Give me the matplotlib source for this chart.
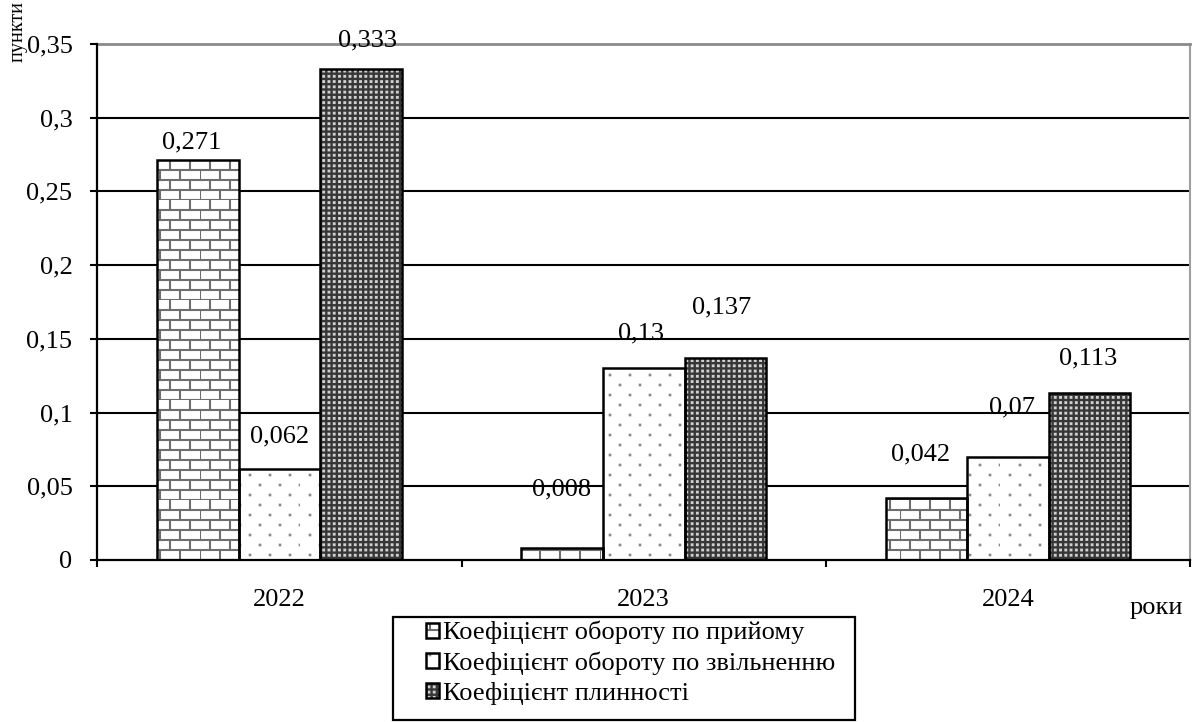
"""Staff turnover coefficients by year, grouped textured bars."""
import warnings

import matplotlib
matplotlib.use("Agg")
import matplotlib.pyplot as plt
import numpy as np
from matplotlib import hatch as mhatch
from matplotlib.path import Path
from matplotlib.patches import Rectangle
from matplotlib.legend_handler import HandlerTuple
from matplotlib.ticker import FixedLocator, FuncFormatter

warnings.filterwarnings("ignore")

YEARS = ["2022", "2023", "2024"]
SERIES = [
    "Коефіцієнт обороту по прийому",
    "Коефіцієнт обороту по звільненню",
    "Коефіцієнт плинності",
]
HIRING = [0.271, 0.008, 0.042]
DISMISSAL = [0.062, 0.13, 0.07]
FLUIDITY = [0.333, 0.137, 0.113]

# hand-placed value labels (pixel offsets from the bar top centre)
LABEL_SHIFT = [
    [(-6, 18), (-1, 59), (-6, 44)],
    [(0, 32), (-3, 35), (4, 49)],
    [(6, 29), (-4, 51), (-1, 35)],
]


class TextureHatch(mhatch.HatchPatternBase):
    """Extra fill textures: 'b' bricks, 'd' sparse dots, 'g' dense dot grid."""

    def __init__(self, hatch, density):
        verts, codes = [], []
        if "b" in hatch:
            rows, cols = 10, 5
            for k in range(rows):
                verts += [(0, k / rows), (1, k / rows)]
                codes += [Path.MOVETO, Path.LINETO]
                shift = 0.5 / cols if k % 2 else 0.0
                for j in range(cols):
                    x = j / cols + shift
                    verts += [(x, k / rows), (x, (k + 1) / rows)]
                    codes += [Path.MOVETO, Path.LINETO]
        if "d" in hatch:
            self._dots(verts, codes, 10, 5, 0.003, stagger=True)
        if "g" in hatch:
            self._dots(verts, codes, 19, 19, 0.004, stagger=False)
        self.verts = np.array(verts, float).reshape(-1, 2)
        self.codes = np.array(codes, Path.code_type)
        self.num_vertices = len(self.verts)

    @staticmethod
    def _dots(verts, codes, rows, cols, s, stagger):
        for k in range(rows):
            shift = 0.5 / cols if (stagger and k % 2) else 0.0
            y = (k + 0.5) / rows
            for j in range(cols):
                x = (j + 0.5) / cols + shift
                x = x - 1 if x > 1 else x
                verts += [(x - s, y - s), (x + s, y - s), (x + s, y + s),
                          (x - s, y + s), (x - s, y - s)]
                codes += [Path.MOVETO, Path.LINETO, Path.LINETO,
                          Path.LINETO, Path.CLOSEPOLY]

    def set_vertices_and_codes(self, vertices, codes):
        vertices[:] = self.verts
        codes[:] = self.codes


mhatch._hatch_types.append(TextureHatch)

plt.rcParams["font.family"] = ["Liberation Serif", "DejaVu Serif"]
plt.rcParams["hatch.linewidth"] = 1.5

fig = plt.figure(figsize=(11.93, 7.22), dpi=100)
ax = fig.add_axes([0.0817, 0.2244, 0.9158, 0.7147])

x = np.arange(len(YEARS))
w = 0.224
styles = [
    dict(hatch="b", facecolor="white", edgecolor="#6e6e6e"),
    dict(hatch="d", facecolor="white", edgecolor="#8a8a8a"),
    dict(hatch="g", facecolor="#363636", edgecolor="#d0d0d0"),
]
handles = []
for i, (vals, st) in enumerate(zip([HIRING, DISMISSAL, FLUIDITY], styles)):
    pos = x + (i - 1) * w
    fill = ax.bar(pos, vals, w, linewidth=0, zorder=2, **st)
    edge = ax.bar(pos, vals, w, fill=False, edgecolor="black",
                  linewidth=1.8, zorder=3)
    handles.append((fill[0], edge[0]))
    for p, v, (dx, dy) in zip(pos, vals, LABEL_SHIFT[i]):
        ax.annotate(f"{v:g}".replace(".", ","), (p, v),
                    xytext=(dx, dy), textcoords="offset pixels",
                    ha="center", va="center", fontsize=19, zorder=5)

ax.set_xlim(-0.5, 2.5)
ax.set_ylim(0, 0.35)
yt = np.round(np.arange(0, 0.351, 0.05), 2)
ax.set_yticks(yt)
ax.yaxis.set_major_formatter(
    FuncFormatter(lambda v, _: f"{round(v, 2):g}".replace(".", ",")))
for v in yt[1:-1]:
    ax.axhline(v, color="black", linewidth=1.5, zorder=1)

ax.xaxis.set_major_locator(FixedLocator([-0.5, 0.5, 1.5, 2.5]))
ax.xaxis.set_major_formatter(FuncFormatter(lambda v, _: ""))
ax.xaxis.set_minor_locator(FixedLocator(x))
ax.set_xticklabels(YEARS, minor=True)
ax.tick_params(axis="x", which="major", direction="out", length=5,
               width=1.5)
ax.tick_params(axis="x", which="minor", length=0, pad=21, labelsize=19)
ax.tick_params(axis="y", direction="out", length=5, width=1.5, pad=13,
               labelsize=19)

for side in ("left", "bottom"):
    ax.spines[side].set_linewidth(1.6)
    ax.spines[side].set_zorder(4)
ax.spines["top"].set_color("#8a8a8a")
ax.spines["top"].set_linewidth(2)
ax.spines["right"].set_color("#a0a0a0")
ax.spines["right"].set_linewidth(1.5)

fig.text(18 / 1193, 1 - 31 / 722, "пункти", rotation=90, ha="center",
         va="center", fontsize=14.5)
fig.text(1156 / 1193, 1 - 608 / 722, "роки", ha="center", va="center",
         fontsize=19)

leg = fig.legend(handles, SERIES, loc="upper left",
                 bbox_to_anchor=(426 / 1193, 1 - 621 / 722),
                 handler_map={tuple: HandlerTuple(ndivide=1)},
                 frameon=False, fontsize=19, borderpad=0,
                 borderaxespad=0, handlelength=0.5, handleheight=0.5,
                 handletextpad=0.15, labelspacing=0.26)
fig.patches.append(Rectangle((393 / 1193, 1 - 720 / 722), 462 / 1193,
                             103 / 722, transform=fig.transFigure,
                             fill=False, edgecolor="black", linewidth=1.6))

fig.savefig("out.png", dpi=100)
